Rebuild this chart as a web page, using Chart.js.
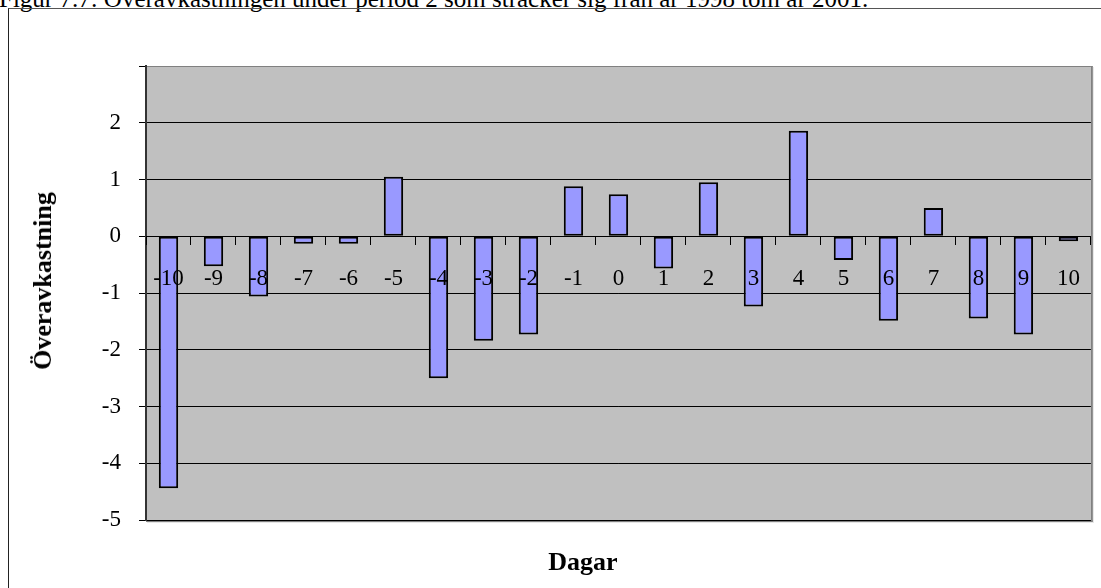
<!DOCTYPE html>
<html>
<head>
<meta charset="utf-8">
<script src="https://cdn.jsdelivr.net/npm/chart.js@4"></script>
<style>
  html, body { margin: 0; padding: 0; background: #fff; overflow: hidden; }
  #wrap { position: relative; width: 1101px; height: 588px; }
  #frame { position: absolute; left: 8px; top: 8px; width: 1200px; height: 700px;
           border-left: 1px solid #222; border-top: 1px solid #555; }
  #caption { position: absolute; left: -1px; top: -11px; white-space: nowrap;
             font: 25px "Liberation Serif", "Times New Roman", serif; line-height: 20px; color: #000; }
  .axis-title { position: absolute; font: bold 26px "Liberation Serif", "Times New Roman", serif;
                color: #000; white-space: nowrap; line-height: 30px; }
  #ytitle { left: 43px; top: 281px; transform: translate(-50%, -50%) rotate(-90deg); }
  #xtitle { left: 583px; top: 562px; transform: translate(-50%, -50%); }
  canvas { position: absolute; left: 0; top: 0; }
</style>
</head>
<body>
<div id="wrap">
  <div id="caption">Figur 7.7: Överavkastningen under period 2 som sträcker sig från år 1998 tom år 2001.</div>
  <div id="frame"></div>
  <canvas id="chart" width="1101" height="588"></canvas>
  <div id="ytitle" class="axis-title">Överavkastning</div>
  <div id="xtitle" class="axis-title">Dagar</div>
</div>
<script>
// Event days around the announcement
const days = ['-10', '-9', '-8', '-7', '-6', '-5', '-4', '-3', '-2', '-1', '0',
              '1', '2', '3', '4', '5', '6', '7', '8', '9', '10'];
// Abnormal return per day
const abnormalReturn = [-4.44, -0.53, -1.06, -0.13, -0.13, 1.05, -2.50, -1.84, -1.73, 0.88, 0.74,
                        -0.57, 0.95, -1.24, 1.86, -0.42, -1.49, 0.50, -1.45, -1.73, -0.09];
// Value axis
const yMin = -5;
const yMax = 3;
const yStep = 1;
const hiddenTickLabels = [3];

const serif = '"Liberation Serif", "Times New Roman", serif';

// Grey plot area with a darker edge on the right and bottom
const plotBackground = {
  id: 'plotBackground',
  beforeDraw(chart) {
    const { ctx, chartArea: a } = chart;
    ctx.save();
    ctx.fillStyle = '#C0C0C0';
    ctx.fillRect(a.left, a.top, a.right - a.left, a.bottom - a.top);
    ctx.fillStyle = '#808080';
    ctx.fillRect(a.right, a.top, 2, a.bottom - a.top + 2);
    ctx.fillRect(a.left, a.bottom, a.right - a.left + 2, 2);
    ctx.fillStyle = '#E6E6E6';
    ctx.fillRect(a.right + 2, a.top + 1, 1, a.bottom - a.top + 2);
    ctx.fillRect(a.left + 1, a.bottom + 2, a.right - a.left + 2, 1);
    ctx.restore();
  }
};

new Chart(document.getElementById('chart'), {
  type: 'bar',
  data: {
    labels: days,
    datasets: [{
      data: abnormalReturn,
      backgroundColor: '#9999FF',
      borderColor: '#000000',
      borderWidth: 2,
      borderSkipped: false,
      barPercentage: 0.43,
      categoryPercentage: 1.0
    }]
  },
  options: {
    responsive: false,
    devicePixelRatio: 1,
    animation: false,
    events: [],
    layout: { padding: { top: 66, right: 4, bottom: 68, left: 0 } },
    plugins: {
      legend: { display: false },
      tooltip: { enabled: false },
      title: { display: false }
    },
    scales: {
      x: {
        position: { y: 0 },
        offset: true,
        grid: {
          offset: true,
          drawOnChartArea: false,
          drawTicks: true,
          tickLength: 8,
          tickColor: '#000',
          tickWidth: 1,
          z: 1
        },
        border: { display: true, color: '#000', width: 1, z: 1 },
        ticks: {
          z: 2,
          color: '#000',
          font: { family: serif, size: 23 },
          padding: 21,
          maxRotation: 0,
          autoSkip: false
        }
      },
      y: {
        min: yMin,
        max: yMax,
        afterFit(scale) { scale.width = 146; },
        grid: {
          color: (c) => (c.tick && c.tick.value === yMax ? '#808080' : '#000'),
          lineWidth: 1,
          tickLength: 7,
          tickColor: '#000'
        },
        border: { display: true, color: '#333', width: 2 },
        ticks: {
          stepSize: yStep,
          color: '#000',
          padding: 18,
          font: { family: serif, size: 23 },
          callback: (v) => (hiddenTickLabels.includes(v) ? '' : String(v))
        }
      }
    }
  },
  plugins: [plotBackground]
});
</script>
</body>
</html>
